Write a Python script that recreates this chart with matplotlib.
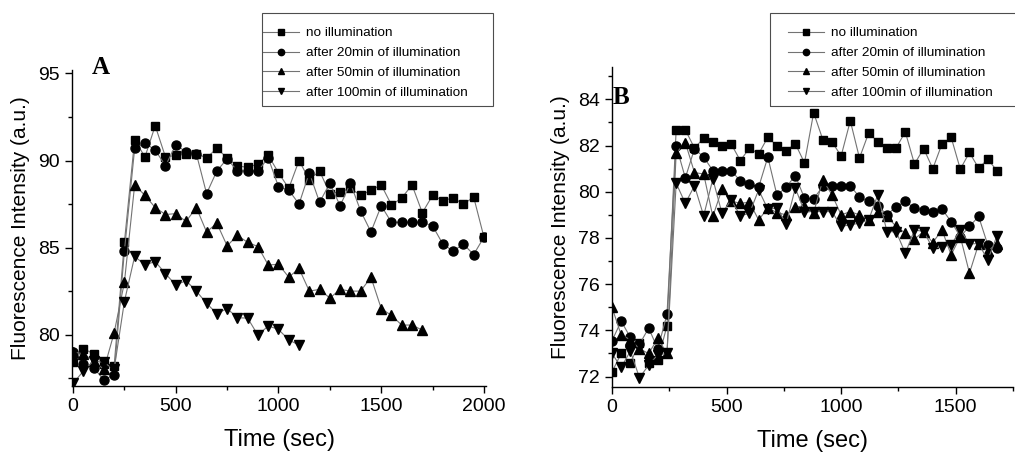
import numpy as np
import matplotlib
matplotlib.use("Agg")
import matplotlib.pyplot as plt
from matplotlib.ticker import MultipleLocator
from matplotlib.patches import Rectangle

plt.rcParams['font.family'] = ['Liberation Sans', 'DejaVu Sans']

labels = ['no illumination', 'after 20min of illumination',
          'after 50min of illumination', 'after 100min of illumination']

# ---- panel A (50 s sampling) ----
a_t = np.arange(0, 2001, 50)
a_none = [78.4, 79.2, 78.9, 78.3, 78.2, 85.3, 91.2, 90.2, 92.0, 90.2, 90.3,
          90.35, 90.4, 90.15, 90.7, 90.15, 89.7, 89.6, 89.8, 90.3, 89.3,
          88.4, 90.0, 88.9, 89.4, 88.1, 88.2, 88.4, 88.0, 88.3, 88.6, 87.45,
          87.85, 88.6, 87.0, 88.0, 87.7, 87.85, 87.5, 87.9, 85.6]
a_20 = [79.0, 78.3, 78.1, 77.4, 77.7, 84.8, 90.7, 91.0, 90.6, 89.7, 90.9,
        90.5, 90.4, 88.1, 89.4, 90.1, 89.4, 89.4, 89.4, 90.15, 88.5,
        88.3, 87.5, 89.3, 87.6, 88.7, 87.4, 88.7, 87.1, 85.9, 87.4, 86.45,
        86.45, 86.45, 86.45, 86.25, 85.2, 84.8, 85.2, 84.6, 85.6]
a_50 = [79.0, 78.9, 78.5, 78.0, 80.1, 83.0, 88.6, 88.0, 87.3, 86.9, 86.95,
        86.5, 87.3, 85.9, 86.4, 85.1, 85.7, 85.3, 85.06, 84.0, 84.04,
        83.3, 83.8, 82.5, 82.6, 82.1, 82.6, 82.5, 82.5, 83.3, 81.5, 81.1,
        80.55, 80.55, 80.26]
a_100 = [77.2, 77.9, 78.5, 78.4, 78.0, 81.9, 84.5, 84.0, 84.2, 83.5, 82.85,
         83.1, 82.5, 81.8, 81.2, 81.5, 80.97, 80.95, 79.97, 80.5, 80.3,
         79.7, 79.4]

# ---- panel B (40 s sampling) ----
b_t = np.arange(0, 1681, 40)
b_none = [72.2, 73.0, 72.6, 73.45, 72.6, 72.7, 74.2,
          82.68, 82.68, 81.89, 82.32, 82.17, 81.99, 82.07, 81.35, 81.89,
          81.64, 82.36, 81.99, 81.78, 82.08, 81.25, 83.42,
          82.26, 82.16, 81.55, 83.07, 81.46, 82.54, 82.17, 81.9, 81.9,
          82.59, 81.2, 81.87, 81.0, 82.07, 82.36, 80.98, 81.7, 81.02,
          81.41, 80.91]
b_20 = [73.55, 74.4, 73.7, 73.4, 74.1, 73.2, 74.7,
        82.0, 80.6, 81.86, 81.5, 80.92, 80.92, 80.92, 80.47, 80.34, 80.2,
        81.5, 79.85, 80.2, 80.7, 79.72, 79.7,
        80.23, 80.26, 80.26, 80.26, 79.77, 79.58, 79.4, 79.0, 79.36,
        79.58, 79.29, 79.22, 79.12, 79.25, 78.71, 78.06, 78.5, 78.93,
        77.7, 77.56]
b_50 = [75.0, 73.8, 73.6, 73.2, 73.0, 73.65, 73.0,
        81.67, 82.13, 80.83, 80.77, 78.93, 80.11, 79.6, 79.5, 79.55, 78.78,
        79.3, 79.1, 79.0, 79.33, 79.4, 79.1,
        80.51, 79.87, 79.0, 79.14, 79.0, 78.78, 79.12, 78.93, 78.5,
        78.21, 77.95, 78.28, 77.8, 78.35, 77.27, 78.06, 76.48, 77.74,
        77.44, 77.75]
b_100 = [73.0, 72.4, 73.1, 71.95, 72.5, 72.95, 73.0,
         80.37, 79.5, 80.26, 78.96, 80.55, 79.07, 79.65, 78.96, 79.07, 80.08,
         79.25, 79.3, 78.61, 80.16, 79.14, 79.14,
         79.14, 79.14, 78.5, 78.57, 78.64, 78.78, 79.87, 78.28, 78.28,
         77.34, 78.35, 78.28, 77.56, 77.62, 77.7, 78.35, 77.75, 77.75,
         77.05, 78.09]

markers = ['s', 'o', '^', 'v']
msizes = [5.5, 6.5, 7, 7]

fig = plt.figure(figsize=(10.15, 4.58), dpi=100)
W, H = 1015, 458


def px_axes(left, top, right, bottom):
    return fig.add_axes([left / W, 1 - bottom / H, (right - left) / W, (bottom - top) / H])


def style(ax):
    for s in ['top', 'right']:
        ax.spines[s].set_visible(False)
    for s in ['left', 'bottom']:
        ax.spines[s].set_linewidth(1.0)
    ax.tick_params(which='major', direction='out', length=5, width=1, labelsize=14)
    ax.tick_params(which='minor', direction='out', length=3, width=1)
    ax.set_xlabel('Time (sec)', fontsize=17, labelpad=10)
    ax.set_ylabel('Fluorescence Intensity (a.u.)', fontsize=15, labelpad=6)


axA = px_axes(72, 70, 486, 386)
for ys, m, ms, lab in zip([a_none, a_20, a_50, a_100], markers, msizes, labels):
    axA.plot(a_t[:len(ys)], ys, color='0.45', lw=0.8, marker=m, ms=ms,
             mfc='black', mec='black', label=lab)
axA.set_xlim(-5, 2010)
axA.set_ylim(77.05, 95.2)
axA.xaxis.set_major_locator(MultipleLocator(500))
axA.xaxis.set_minor_locator(MultipleLocator(250))
axA.yaxis.set_major_locator(MultipleLocator(5))
axA.yaxis.set_minor_locator(MultipleLocator(2.5))
style(axA)

axB = px_axes(612, 67, 1013, 387)
for ys, m, ms, lab in zip([b_none, b_20, b_50, b_100], markers, msizes, labels):
    axB.plot(b_t[:len(ys)], ys, color='0.45', lw=0.8, marker=m, ms=ms,
             mfc='black', mec='black', label=lab)
axB.set_xlim(0, 1750)
axB.set_ylim(71.55, 85.4)
axB.xaxis.set_major_locator(MultipleLocator(500))
axB.xaxis.set_minor_locator(MultipleLocator(250))
axB.yaxis.set_major_locator(MultipleLocator(2))
axB.yaxis.set_minor_locator(MultipleLocator(1))
style(axB)

fig.text(92 / W, 1 - 68 / H, 'A', fontsize=18, fontweight='bold',
         family='Liberation Serif', va='center')
fig.text(613 / W, 1 - 98 / H, 'B', fontsize=18, fontweight='bold',
         family='Liberation Serif', va='center')

# legends without their own frame; boxes drawn separately to match the wide originals
leg_kw = dict(loc='upper left', fontsize=9.7, frameon=False, handlelength=2.7,
              handletextpad=0.5, labelspacing=0.55, markerscale=0.7,
              borderpad=0, borderaxespad=0, bbox_transform=fig.transFigure)
axA.legend(bbox_to_anchor=(263 / W, 1 - 27 / H), **leg_kw)
axB.legend(bbox_to_anchor=(788 / W, 1 - 27 / H), **leg_kw)

for x0, x1 in [(262, 493), (770, 1030)]:
    fig.patches.append(Rectangle((x0 / W, 1 - 106 / H), (x1 - x0) / W, 93 / H,
                                 transform=fig.transFigure, fill=False,
                                 edgecolor='0.3', linewidth=0.8))

fig.savefig('out.png', dpi=100)
